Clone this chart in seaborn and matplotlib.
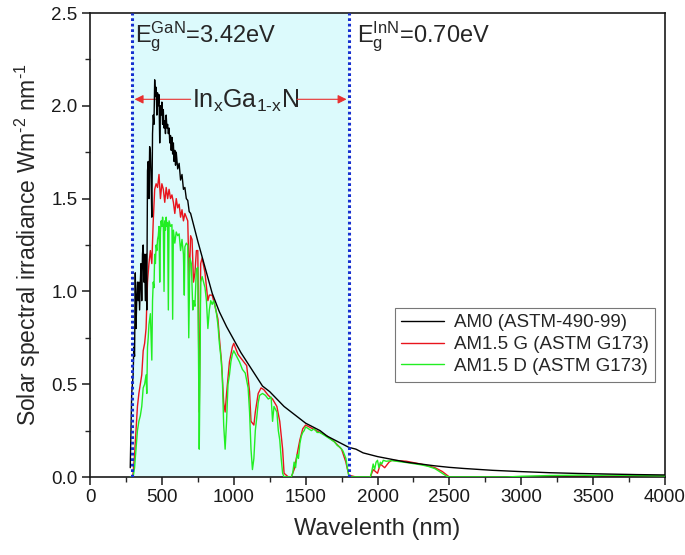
import matplotlib
matplotlib.use("Agg")
import matplotlib.pyplot as plt
import seaborn as sns

# ---- spectral data (wavelength in nm, irradiance in W m^-2 nm^-1) ----
am0_nm = [280, 290, 300, 305, 310, 315, 320, 325, 330, 335, 340, 345, 350, 355,
          360, 365, 370, 375, 380, 385, 390, 395, 400, 405, 410, 415, 420, 425,
          430, 435, 440, 445, 450, 455, 460, 465, 470, 475, 480, 485, 490, 495,
          500, 505, 510, 515, 520, 525, 530, 535, 540, 545, 550, 555, 560, 565,
          570, 575, 580, 585, 590, 595, 600, 610, 620, 630, 640, 650, 660, 670,
          680, 690, 700, 750, 800, 850, 900, 950, 1000,
          1050, 1100, 1150, 1200, 1250, 1300, 1350, 1400, 1450, 1500, 1550,
          1600, 1650, 1700, 1750, 1800, 1850, 1900, 2000, 2100, 2200, 2300,
          2400, 2500, 2600, 2800, 3000, 3200, 3400, 3600, 3800, 4000]
am0_val = [0.05, 0.45, 0.55, 0.70, 0.65, 1.10, 0.80, 0.95, 1.05, 0.95, 1.05, 0.90,
           1.05, 1.15, 0.95, 1.20, 1.25, 1.05, 1.20, 0.95, 1.20, 0.90, 1.65, 1.70,
           1.50, 1.78, 1.75, 1.60, 1.40, 1.85, 1.95, 1.90, 2.14, 2.05, 2.10, 1.95,
           2.07, 2.00, 2.06, 1.80, 2.00, 1.95, 2.02, 1.90, 1.98, 1.88, 1.92, 1.85,
           1.95, 1.88, 1.90, 1.85, 1.88, 1.80, 1.84, 1.76, 1.83, 1.74, 1.80, 1.70,
           1.76, 1.68, 1.75, 1.66, 1.69, 1.60, 1.63, 1.55, 1.56, 1.50, 1.49, 1.43,
           1.42, 1.27, 1.13, 0.99, 0.89, 0.81, 0.74, 0.67, 0.61, 0.55,
           0.49, 0.46, 0.42, 0.38, 0.35, 0.32, 0.29, 0.27, 0.25, 0.22, 0.20, 0.18,
           0.16, 0.15, 0.13, 0.11, 0.095, 0.08, 0.07, 0.06, 0.052, 0.046, 0.036,
           0.029, 0.023, 0.019, 0.016, 0.013, 0.011]

g_nm = [280, 295, 300, 310, 320, 330, 340, 350, 360, 370, 380, 390, 400, 410,
        420, 430, 440, 450, 460, 470, 480, 490, 500, 510, 520, 530, 540, 550,
        560, 570, 580, 590, 600, 610, 620, 630, 640, 650, 660, 670, 680, 690,
        700, 710, 720, 730, 740, 750, 760, 770, 780, 800, 820, 830, 850, 870,
        890, 900, 915, 930, 940, 950, 970, 990, 1000, 1030, 1050, 1070, 1090,
        1110, 1120, 1140, 1150, 1170, 1190, 1210, 1240, 1270, 1300, 1320, 1340,
        1350, 1380, 1400, 1420, 1440, 1460, 1480, 1500, 1550, 1600, 1650, 1700,
        1750, 1780, 1800, 1850, 1950, 1970, 2000, 2020, 2050, 2080, 2100, 2200,
        2300, 2400, 2450, 2500, 3000, 3500, 4000]
g_val = [0.0, 0.0, 0.02, 0.12, 0.25, 0.38, 0.45, 0.50, 0.55, 0.68, 0.72, 0.80,
         1.05, 1.15, 1.22, 1.15, 1.38, 1.55, 1.58, 1.56, 1.63, 1.50, 1.58, 1.55,
         1.48, 1.56, 1.50, 1.55, 1.50, 1.52, 1.48, 1.42, 1.50, 1.45, 1.47, 1.40,
         1.44, 1.38, 1.42, 1.40, 1.38, 1.05, 1.30, 1.28, 1.05, 1.10, 1.22, 1.22,
         0.35, 1.15, 1.18, 1.10, 0.95, 0.98, 0.98, 0.92, 0.85, 0.75, 0.62, 0.40,
         0.35, 0.45, 0.62, 0.70, 0.72, 0.66, 0.64, 0.62, 0.60, 0.46, 0.30, 0.28,
         0.35, 0.45, 0.48, 0.47, 0.44, 0.42, 0.38, 0.30, 0.15, 0.02, 0.0, 0.0,
         0.04, 0.12, 0.20, 0.26, 0.28, 0.26, 0.24, 0.22, 0.19, 0.15, 0.08, 0.01,
         0.0, 0.0, 0.04, 0.02, 0.07, 0.05, 0.08, 0.09, 0.085, 0.07, 0.05, 0.03,
         0.0, 0.0, 0.004, 0.005]

d_nm = [280, 300, 310, 320, 330, 340, 350, 360, 370, 380, 390, 395, 400, 405,
        410, 420, 425, 430, 435, 440, 445, 450, 455, 460, 465, 470, 475, 480,
        485, 490, 495, 500, 505, 510, 515, 520, 525, 530, 535, 540, 545, 550,
        560, 570, 575, 580, 590, 600, 610, 620, 630, 640, 650, 656, 660, 670,
        680, 687, 695, 705, 715, 722, 730, 740, 750, 760, 765, 770, 780, 790,
        800, 810, 820, 830, 840, 850, 860, 870, 880, 890, 900, 910, 920, 930,
        940, 950, 960, 970, 980, 990, 1000, 1020, 1040, 1060, 1080, 1100, 1110,
        1120, 1130, 1140, 1150, 1160, 1170, 1180, 1200, 1220, 1240, 1260, 1270,
        1280, 1300, 1310, 1320, 1330, 1340, 1350, 1400, 1410, 1420, 1430, 1440,
        1450, 1460, 1470, 1480, 1490, 1500, 1520, 1540, 1560, 1580, 1600, 1620,
        1640, 1660, 1680, 1700, 1720, 1740, 1760, 1780, 1790, 1800, 1810, 1950,
        1960, 1970, 1980, 1990, 2000, 2010, 2020, 2030, 2040, 2060, 2100, 2150,
        2200, 2250, 2300, 2350, 2380, 2400, 2420, 2450, 2480, 2500, 2900, 3000,
        3100, 3200, 3300, 3400, 3500, 3600, 3700, 3800, 3900, 4000]
d_val = [0.0, 0.0, 0.05, 0.15, 0.25, 0.30, 0.33, 0.38, 0.48, 0.50, 0.55, 0.45,
         0.70, 0.75, 0.82, 0.88, 0.75, 0.63, 0.95, 1.05, 1.02, 1.20, 1.15, 1.25,
         1.22, 1.28, 1.30, 1.35, 1.05, 1.32, 1.38, 1.35, 1.40, 1.36, 1.00, 1.38,
         1.33, 1.40, 1.35, 1.37, 0.90, 1.38, 1.35, 1.36, 0.85, 1.33, 1.26, 1.32,
         1.30, 1.31, 1.22, 1.28, 1.20, 0.98, 1.24, 1.26, 1.25, 0.75, 1.18, 1.15,
         0.90, 0.95, 0.92, 1.12, 1.13, 0.15, 0.55, 1.05, 1.08, 1.05, 1.02, 0.95,
         0.80, 0.90, 0.95, 0.93, 0.95, 0.92, 0.88, 0.82, 0.72, 0.65, 0.55, 0.28,
         0.15, 0.30, 0.50, 0.55, 0.62, 0.66, 0.68, 0.65, 0.62, 0.58, 0.56, 0.48,
         0.35, 0.15, 0.04, 0.10, 0.25, 0.32, 0.40, 0.44, 0.45, 0.44, 0.42, 0.43,
         0.30, 0.38, 0.35, 0.25, 0.20, 0.10, 0.02, 0.0, 0.0, 0.02, 0.08, 0.05,
         0.12, 0.10, 0.18, 0.22, 0.24, 0.25, 0.27, 0.26, 0.25, 0.26, 0.24, 0.24,
         0.23, 0.22, 0.21, 0.20, 0.19, 0.17, 0.16, 0.14, 0.10, 0.05, 0.01, 0.0,
         0.0, 0.03, 0.07, 0.04, 0.08, 0.09, 0.05, 0.08, 0.07, 0.09, 0.085, 0.088,
         0.083, 0.078, 0.072, 0.066, 0.058, 0.05, 0.045, 0.035, 0.02, 0.005, 0.0,
         0.0, 0.004, 0.006, 0.008, 0.009, 0.01, 0.008, 0.01, 0.009, 0.008, 0.007,
         0.006]

series_labels = ["AM0 (ASTM-490-99)", "AM1.5 G (ASTM G173)", "AM1.5 D (ASTM G173)"]
gap_gan_nm = 295     # GaN absorption edge as drawn
gap_inn_nm = 1800    # InN absorption edge as drawn
x_ticks = [0, 500, 1000, 1500, 2000, 2500, 3000, 3500, 4000]
y_ticks = [0.0, 0.5, 1.0, 1.5, 2.0, 2.5]

# ---- style ----
sns.set_theme(style="ticks")
plt.rcParams["font.family"] = ["Liberation Sans", "DejaVu Sans"]
plt.rcParams["mathtext.fontset"] = "custom"
plt.rcParams["mathtext.rm"] = "Liberation Sans"
plt.rcParams["mathtext.it"] = "Liberation Sans:italic"
plt.rcParams["mathtext.default"] = "regular"

fig = plt.figure(figsize=(6.85, 5.55), dpi=100)
ax = fig.add_axes([90 / 685, 1 - 477 / 555, 575 / 685, 464 / 555])

# band between the two absorption edges
ax.axvspan(gap_gan_nm, gap_inn_nm, color="#dcfafc", zorder=0, lw=0)

sns.lineplot(x=am0_nm, y=am0_val, color="black", lw=1.0, label=series_labels[0],
             ax=ax, zorder=4)
sns.lineplot(x=g_nm, y=g_val, color="#e8141c", lw=1.0, label=series_labels[1],
             ax=ax, zorder=2)
sns.lineplot(x=d_nm, y=d_val, color="#22ee22", lw=1.0, label=series_labels[2],
             ax=ax, zorder=3)

for xv in (gap_gan_nm, gap_inn_nm):
    ax.axvline(xv, color="#1530d0", lw=2.2, linestyle=(0, (0.9, 0.9)), zorder=5)

# annotations
ax.text(313, 2.34, r"E$_g^{GaN}$=3.42eV", fontsize=17, ha="left", va="baseline")
ax.text(1857, 2.34, r"E$_g^{InN}$=0.70eV", fontsize=17, ha="left", va="baseline")
ax.text(712, 1.99, r"In$_x$Ga$_{1\text{-}x}$N", fontsize=18, ha="left", va="baseline")
arrow = dict(arrowstyle="-|>", color="#e83030", lw=0.8, mutation_scale=13,
             shrinkA=0, shrinkB=0)
ax.annotate("", xy=(gap_gan_nm + 15, 2.035), xytext=(700, 2.035), arrowprops=arrow)
ax.annotate("", xy=(gap_inn_nm - 15, 2.035), xytext=(1440, 2.035), arrowprops=arrow)

# axes
ax.set_xlim(0, 4000)
ax.set_ylim(0, 2.5)
ax.set_xticks(x_ticks)
ax.set_xticks(range(250, 4000, 500), minor=True)
ax.set_yticks(y_ticks)
ax.set_yticks([0.25, 0.75, 1.25, 1.75, 2.25], minor=True)
ax.set_yticklabels([f"{v:.1f}" for v in y_ticks])
ax.tick_params(axis="both", which="major", direction="out", length=6, width=1.1,
               labelsize=13.5, colors="#1a1a1a", pad=3)
ax.tick_params(axis="both", which="minor", direction="out", length=3.5, width=1.0)
for sp in ax.spines.values():
    sp.set_visible(True)
    sp.set_linewidth(1.2)
    sp.set_color("#1a1a1a")

ax.set_xlabel("Wavelenth (nm)", fontsize=17, labelpad=8)
ax.set_ylabel(r"Solar spectral irradiance Wm$^{\text{-}2}$ nm$^{\text{-}1}$",
              fontsize=16.5, labelpad=6)

leg = ax.legend(loc="upper left", bbox_to_anchor=(0.530, 0.365), borderaxespad=0,
                fontsize=13.5, handlelength=2.3, handletextpad=0.5,
                labelspacing=0.25, borderpad=0.35, fancybox=False, framealpha=1)
leg.get_frame().set_edgecolor("#777777")
leg.get_frame().set_linewidth(0.8)
leg.set_zorder(6)

fig.savefig("out.png", dpi=100)
